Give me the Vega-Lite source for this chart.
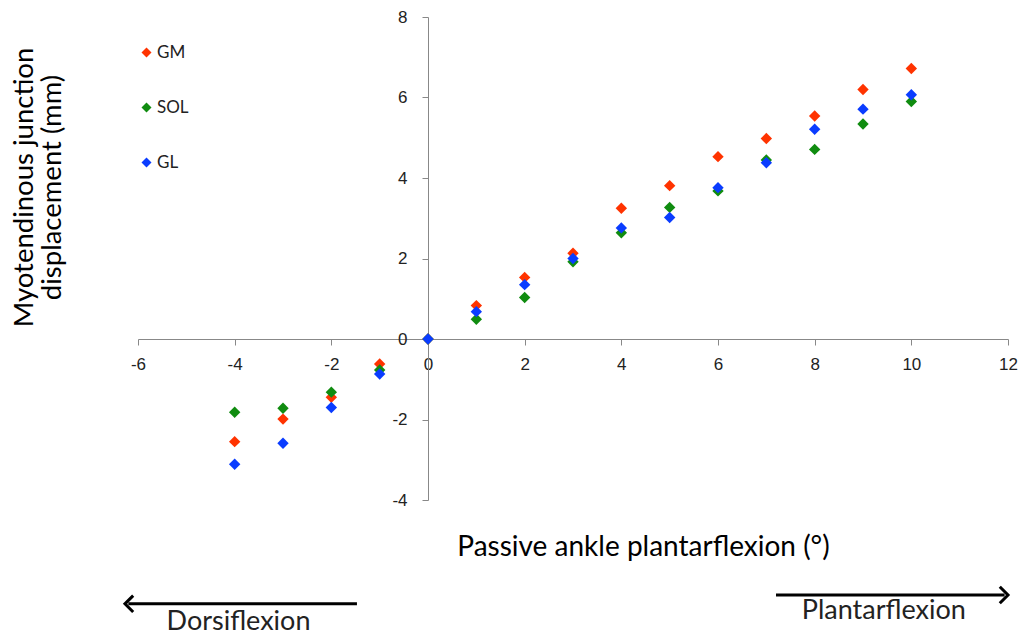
{
  "$schema": "https://vega.github.io/schema/vega-lite/v6.json",
  "width": 870,
  "height": 483,
  "autosize": "none",
  "padding": {"left": 138, "top": 17, "right": 12, "bottom": 135},
  "background": "white",
  "config": {
    "view": {"stroke": null},
    "font": "Lato",
    "axis": {"labelFont": "Liberation Sans", "labelFontSize": 17, "labelColor": "#222"},
    "style": {"guide-label": {"font": "Liberation Sans", "fontSize": 17}}
  },
  "layer": [
    {
      "data": {
        "values": [
          {"angle": -4, "muscle": "GM", "disp": -2.55},
          {"angle": -3, "muscle": "GM", "disp": -1.99},
          {"angle": -2, "muscle": "GM", "disp": -1.45},
          {"angle": -1, "muscle": "GM", "disp": -0.62},
          {"angle": 0, "muscle": "GM", "disp": 0},
          {"angle": 1, "muscle": "GM", "disp": 0.83},
          {"angle": 2, "muscle": "GM", "disp": 1.53},
          {"angle": 3, "muscle": "GM", "disp": 2.13},
          {"angle": 4, "muscle": "GM", "disp": 3.25},
          {"angle": 5, "muscle": "GM", "disp": 3.81},
          {"angle": 6, "muscle": "GM", "disp": 4.53},
          {"angle": 7, "muscle": "GM", "disp": 4.98},
          {"angle": 8, "muscle": "GM", "disp": 5.54},
          {"angle": 9, "muscle": "GM", "disp": 6.20},
          {"angle": 10, "muscle": "GM", "disp": 6.72},
          {"angle": -4, "muscle": "SOL", "disp": -1.82},
          {"angle": -3, "muscle": "SOL", "disp": -1.72},
          {"angle": -2, "muscle": "SOL", "disp": -1.32},
          {"angle": -1, "muscle": "SOL", "disp": -0.77},
          {"angle": 0, "muscle": "SOL", "disp": 0},
          {"angle": 1, "muscle": "SOL", "disp": 0.49},
          {"angle": 2, "muscle": "SOL", "disp": 1.03},
          {"angle": 3, "muscle": "SOL", "disp": 1.92},
          {"angle": 4, "muscle": "SOL", "disp": 2.64},
          {"angle": 5, "muscle": "SOL", "disp": 3.27},
          {"angle": 6, "muscle": "SOL", "disp": 3.68},
          {"angle": 7, "muscle": "SOL", "disp": 4.45},
          {"angle": 8, "muscle": "SOL", "disp": 4.71},
          {"angle": 9, "muscle": "SOL", "disp": 5.34},
          {"angle": 10, "muscle": "SOL", "disp": 5.90},
          {"angle": -4, "muscle": "GL", "disp": -3.11},
          {"angle": -3, "muscle": "GL", "disp": -2.59},
          {"angle": -2, "muscle": "GL", "disp": -1.70},
          {"angle": -1, "muscle": "GL", "disp": -0.87},
          {"angle": 0, "muscle": "GL", "disp": 0},
          {"angle": 1, "muscle": "GL", "disp": 0.68},
          {"angle": 2, "muscle": "GL", "disp": 1.35},
          {"angle": 3, "muscle": "GL", "disp": 2.0},
          {"angle": 4, "muscle": "GL", "disp": 2.76},
          {"angle": 5, "muscle": "GL", "disp": 3.02},
          {"angle": 6, "muscle": "GL", "disp": 3.76},
          {"angle": 7, "muscle": "GL", "disp": 4.38},
          {"angle": 8, "muscle": "GL", "disp": 5.21},
          {"angle": 9, "muscle": "GL", "disp": 5.71},
          {"angle": 10, "muscle": "GL", "disp": 6.07}
        ]
      },
      "mark": {"type": "point", "shape": "diamond", "filled": true, "size": 130, "opacity": 1},
      "encoding": {
        "x": {
          "field": "angle", "type": "quantitative",
          "scale": {"domain": [-6, 12], "nice": false, "zero": false},
          "axis": {
            "orient": "bottom", "offset": -161,
            "values": [-6, -4, -2, 0, 2, 4, 6, 8, 10, 12],
            "labelExpr": "replace(datum.label, '−', '-')",
            "grid": false, "labelOverlap": false, "labelFlush": false,
            "labelFont": "Liberation Sans", "labelFontSize": 17, "labelColor": "#222",
            "labelPadding": 11, "tickSize": 6, "tickColor": "#888", "domainColor": "#888",
            "title": "Passive ankle plantarflexion (°)",
            "titleFont": "Lato", "titleFontSize": 28, "titleFontWeight": "normal", "titleColor": "#000",
            "titleX": 505, "titleY": 216, "titleBaseline": "alphabetic"
          }
        },
        "y": {
          "field": "disp", "type": "quantitative",
          "scale": {"domain": [-4, 8], "nice": false, "zero": false},
          "axis": {
            "orient": "left", "offset": -290,
            "values": [-4, -2, 0, 2, 4, 6, 8],
            "labelExpr": "replace(datum.label, '−', '-')",
            "grid": false, "labelOverlap": false, "labelFlush": false,
            "labelFont": "Liberation Sans", "labelFontSize": 17, "labelColor": "#222",
            "labelPadding": 15, "tickSize": 6, "tickColor": "#888", "domainColor": "#888",
            "title": ["Myotendinous junction", "displacement (mm)"],
            "titleFont": "Lato", "titleFontSize": 27.5, "titleFontWeight": "normal", "titleColor": "#000",
            "titleAngle": -90, "titleBaseline": "alphabetic", "titleLineHeight": 28.5,
            "titleX": -396, "titleY": 170, "titleAlign": "center"
          }
        },
        "color": {
          "field": "muscle", "type": "nominal",
          "scale": {"domain": ["GM", "SOL", "GL"], "range": ["#FF3300", "#108C10", "#0A3CFF"]},
          "legend": {
            "orient": "none", "legendX": 0, "legendY": 27, "title": null,
            "symbolType": "diamond", "symbolSize": 100, "symbolStrokeWidth": 0,
            "labelFont": "Lato", "labelFontSize": 17, "labelColor": "#222",
            "labelOffset": 2, "rowPadding": 37, "padding": 0
          }
        }
      }
    },
    {
      "data": {"values": [{}]},
      "mark": {"type": "rule", "strokeWidth": 3, "color": "#000", "clip": false},
      "encoding": {"x": {"datum": -6.2}, "x2": {"datum": -1.47}, "y": {"datum": -6.58}}
    },
    {
      "data": {"values": [{}]},
      "mark": {"type": "point", "shape": "M 1 -1 L 0 0 L 1 1", "filled": false, "strokeWidth": 3, "size": 270, "color": "#000", "opacity": 1, "clip": false},
      "encoding": {"x": {"datum": -6.27}, "y": {"datum": -6.58}}
    },
    {
      "data": {"values": [{}]},
      "mark": {"type": "rule", "strokeWidth": 3, "color": "#000", "clip": false},
      "encoding": {"x": {"datum": 7.2}, "x2": {"datum": 11.93}, "y": {"datum": -6.36}}
    },
    {
      "data": {"values": [{}]},
      "mark": {"type": "point", "shape": "M -1 -1 L 0 0 L -1 1", "filled": false, "strokeWidth": 3, "size": 270, "color": "#000", "opacity": 1, "clip": false},
      "encoding": {"x": {"datum": 12.0}, "y": {"datum": -6.36}}
    },
    {
      "data": {"values": [{"label": "Dorsiflexion", "ax": -3.92, "ay": -7.23}, {"label": "Plantarflexion", "ax": 9.43, "ay": -6.96}]},
      "mark": {"type": "text", "font": "Lato", "fontSize": 27, "color": "#222", "align": "center", "baseline": "alphabetic", "clip": false},
      "encoding": {
        "x": {"field": "ax", "type": "quantitative"},
        "y": {"field": "ay", "type": "quantitative"},
        "text": {"field": "label"}
      }
    }
  ]
}
